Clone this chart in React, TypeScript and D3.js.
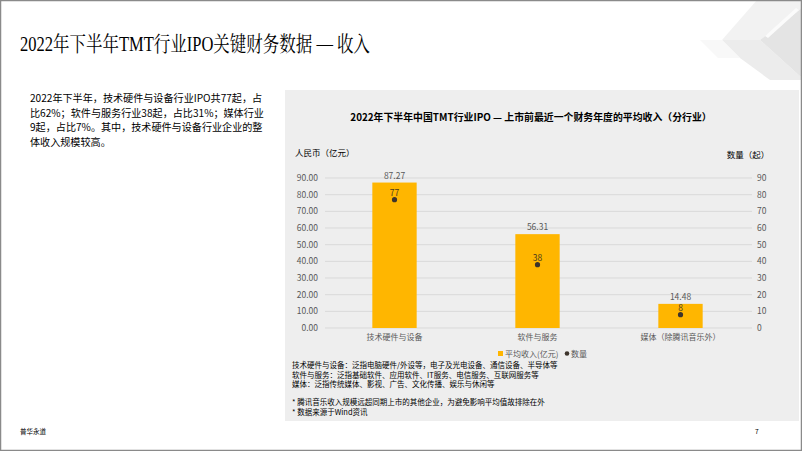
import React from "react";
import * as d3 from "d3";

const categories = ["技术硬件与设备", "软件与服务", "媒体（除腾讯音乐外）"];
const avgRevenue = [87.27, 56.31, 14.48];
const counts = [77, 38, 8];
const leftTicks = [0, 10, 20, 30, 40, 50, 60, 70, 80, 90];
const rightTicks = [0, 10, 20, 30, 40, 50, 60, 70, 80, 90];
const bodyLines = [
  "2022年下半年，技术硬件与设备行业IPO共77起，占",
  "比62%；软件与服务行业38起，占比31%；媒体行业",
  "9起，占比7%。其中，技术硬件与设备行业企业的整",
  "体收入规模较高。",
];
const noteLines = [
  "技术硬件与设备：泛指电脑硬件/外设等，电子及光电设备、通信设备、半导体等",
  "软件与服务：泛指基础软件、应用软件、IT服务、电信服务、互联网服务等",
  "媒体：泛指传统媒体、影视、广告、文化传播、娱乐与休闲等",
];
const footLines = [
  "* 腾讯音乐收入规模远超同期上市的其他企业，为避免影响平均值故排除在外",
  "* 数据来源于Wind资讯",
];

const W = 802;
const H = 451;
const sans = "'Noto Sans CJK SC', 'Liberation Sans', Arial, sans-serif";
const serif = "'Liberation Serif', 'Noto Serif CJK SC', 'Noto Sans CJK SC', serif";

export default function App() {
  const x = d3.scaleBand().domain(categories).range([323, 752]).paddingInner(0.69).paddingOuter(0.345);
  const yL = d3.scaleLinear().domain([0, 90]).range([328, 178]);
  const yR = d3.scaleLinear().domain([0, 90]).range([328, 178]);
  const bw = x.bandwidth();

  return (
    <div style={{ position: "absolute", left: 0, top: 0 }}>
      <svg width={W} height={H} style={{ display: "block" }}>
        <rect x={0} y={0} width={W} height={H} fill="#fff" />
        {/* decoration */}
        <g>
          <polygon points="757,0 802,0 802,8 760,40 722,40" fill="#f2f2f2" />
          <polygon points="722,40 760,40 802,78 802,80 770,80 740,58" fill="#ececec" />
          <polygon points="760,40 802,8 802,78" fill="#e4e4e4" />
          <polygon points="765,36 796,8 799,10 768,38" fill="#fbfbfb" />
          <polygon points="700,40 722,40 740,58 718,58" fill="#f8f8f8" />
        </g>
        <rect x={0.5} y={0.5} width={W - 1} height={H - 1} fill="none" stroke="#8a8a8a" strokeWidth={1.5} />
        <text x={20} y={51} fontFamily={serif} fontSize={21} fill="#000" textLength={350} lengthAdjust="spacingAndGlyphs">
          2022年下半年TMT行业IPO关键财务数据 — 收入
        </text>
        {bodyLines.map((l, i) => (
          <text key={i} x={30} y={102 + i * 14.7} fontFamily={sans} fontSize={10.1} fill="#000">
            {l}
          </text>
        ))}
        <rect x={285} y={90} width={514} height={331} fill="#eeeeee" />
        <text x={531} y={121} textAnchor="middle" fontFamily={sans} fontSize={9.9} fontWeight="bold" fill="#000">
          2022年下半年中国TMT行业IPO — 上市前最近一个财务年度的平均收入（分行业）
        </text>
        <text x={295} y={156} fontFamily={sans} fontSize={8.5} fill="#000">人民币（亿元）</text>
        <text x={748} y={158} textAnchor="middle" fontFamily={sans} fontSize={8.5} fill="#000">数量（起）</text>
        {leftTicks.map((t) => (
          <g key={t}>
            <line x1={325} x2={752} y1={yL(t)} y2={yL(t)} stroke="#d9d9d9" strokeWidth={1} />
            <text x={318} y={yL(t) + 3} textAnchor="end" fontFamily={sans} fontSize={8.5} fill="#595959">
              {t.toFixed(2)}
            </text>
          </g>
        ))}
        {rightTicks.map((t) => (
          <text key={t} x={757} y={yR(t) + 3} fontFamily={sans} fontSize={8.5} fill="#595959">
            {t}
          </text>
        ))}
        {categories.map((c, i) => (
          <g key={c}>
            <rect x={x(c)!} y={yL(avgRevenue[i])} width={bw} height={yL(0) - yL(avgRevenue[i])} fill="#FFB600" />
            <text x={x(c)! + bw / 2} y={yL(avgRevenue[i]) - 4} textAnchor="middle" fontFamily={sans} fontSize={8.5} fill="#595959">
              {avgRevenue[i].toFixed(2)}
            </text>
            <circle cx={x(c)! + bw / 2} cy={yR(counts[i])} r={2.6} fill="#3d342c" />
            <text x={x(c)! + bw / 2} y={yR(counts[i]) - 4} textAnchor="middle" fontFamily={sans} fontSize={8.5} fill="#4a3a1e">
              {counts[i]}
            </text>
            <text x={x(c)! + bw / 2} y={340} textAnchor="middle" fontFamily={sans} fontSize={8} fill="#595959">
              {c}
            </text>
          </g>
        ))}
        <rect x={498} y={351} width={5} height={5} fill="#FFB600" />
        <text x={505} y={357} fontFamily={sans} fontSize={8} fill="#595959">平均收入(亿元)</text>
        <circle cx={567} cy={353.5} r={2.3} fill="#3d342c" />
        <text x={571} y={357} fontFamily={sans} fontSize={8} fill="#595959">数量</text>
        {noteLines.map((l, i) => (
          <text key={i} x={292} y={368 + i * 9.6} fontFamily={sans} fontSize={7.5} fill="#000">
            {l}
          </text>
        ))}
        {footLines.map((l, i) => (
          <text key={i} x={292} y={405 + i * 9.8} fontFamily={sans} fontSize={7.5} fill="#000">
            {l}
          </text>
        ))}
        <text x={20} y={434} fontFamily={sans} fontSize={6.5} fill="#000">普华永道</text>
        <text x={755} y={434} fontFamily={sans} fontSize={6.5} fill="#000">7</text>
      </svg>
    </div>
  );
}
